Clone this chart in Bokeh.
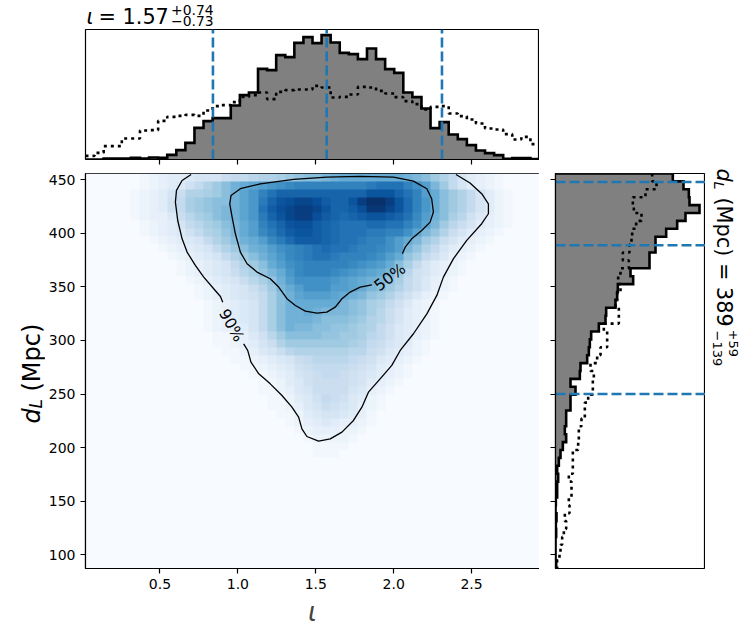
import numpy as np
from bokeh.embed import file_html
from bokeh.layouts import column, row
from bokeh.models import FixedTicker, Label, LinearColorMapper, PrintfTickFormatter, Range1d
from bokeh.palettes import Blues256
from bokeh.plotting import figure
from bokeh.resources import INLINE

IOTA_LIMITS = (0.022, 2.936)
DL_LIMITS = (87.0, 456.0)
iota_ticks = [0.5, 1.0, 1.5, 2.0, 2.5]
dl_ticks = [100, 150, 200, 250, 300, 350, 400, 450]
iota_quantiles = [0.84, 1.57, 2.31]
dl_quantiles = [250, 389, 448]

iota_posterior = [0,0,3,3,3,5,3,6,5,14,28,50,95,115,124,124,162,193,201,272,268,313,307,350,367,
                  349,373,351,320,316,301,333,301,271,260,201,187,153,94,112,75,61,43,27,19,13,2,4,4,1]
iota_prior = [11,20,40,40,63,63,87,88,116,128,131,134,131,147,160,163,172,188,193,201,181,203,208,210,210,
              221,216,186,188,195,218,216,206,198,187,175,166,150,158,160,138,130,120,108,93,90,76,60,68,46]
# distance histograms, listed from the top of the axis downwards
dl_posterior = [352,384,400,402,432,390,365,332,300,300,282,282,225,233,187,185,180,152,150,130,107,103,100,95,75,
                73,45,60,45,45,32,32,28,32,22,15,10,5,8,5,5,1,0,3,1,2,0,0,0,2]
dl_prior = [290,303,270,232,235,258,242,230,228,222,202,220,195,188,195,185,180,190,190,145,155,155,135,125,105,
            115,112,112,98,88,88,78,70,70,68,52,52,52,40,48,48,40,42,28,32,25,20,15,12,5]

contour90_a_x = [0.700,0.642,0.606,0.599,0.614,0.642,0.674,0.727,0.781,0.845,0.888,0.903]
contour90_a_y = [455.1,449.5,440.2,429.3,412.1,395.0,382.6,370.1,359.2,348.3,341.1,335.8]
contour90_b_x = [1.037,1.063,1.084,1.134,1.208,1.283,1.347,1.390,1.411,1.443,1.518,1.593,1.668,1.742,1.796,1.838,
                 1.913,1.988,2.042,2.127,2.213,2.277,2.319,2.383,2.469,2.565,2.608,2.608,2.565,2.490,2.400]
contour90_b_y = [296.9,290.7,279.8,268.9,259.5,248.6,237.7,228.4,217.5,210.3,205.9,208.1,214.4,225.3,237.7,251.7,
                 264.2,276.7,290.7,306.3,324.9,342.1,359.2,376.3,393.5,409.1,418.4,427.7,437.1,447.1,455.1]
contour50_x = [1.860,1.785,1.721,1.668,1.625,1.571,1.507,1.433,1.369,1.315,1.262,1.208,1.123,1.059,1.016,0.984,0.963,
               0.948,0.956,1.016,1.144,1.358,1.571,1.785,1.999,2.127,2.213,2.244,2.255,2.234,2.180,2.116,2.074,2.056]
contour50_y = [352.0,349.9,345.2,339.0,331.2,326.5,325.6,327.4,332.7,339.0,349.9,357.7,363.9,371.7,382.6,399.7,415.3,
               427.7,435.5,441.8,446.4,450.5,452.7,453.3,452.7,448.9,441.8,432.4,420.0,410.6,402.8,395.0,387.2,381.0]

# density levels (base 36, 0-z) per row from the top; each row begins at column heat_start
heat_start = [6,6,5,5,5,5,6,6,7,8,9,10,10,11,12,12,13,13,13,13,14,14,15,16,17,18,19,19,20,20,21,22,23,24,25,25]
heat_rows = [
 "123445666899abbcdeffghiiiiiiihgfdb96" + "4321",
 "1234579bdfhijklmnoooooooopqqqomkgd964321",
 "123468bbcdfhjloqssssssssssuuusqokifdb96421",
 "123479cdeffhjlpsuvwwvtssuxzzxurolifdb96421",
 "123479cdefghjlqtvwxxwusstvyywurolifdb96421",
 "123358acdfghjlpsuwxxvtsrstuutsqnkhfca75321",
 "123469acdfgikoqsuvvtsrqqqrrqqomjgda864321",
 "1234579bcegiknprtuutsrqqqppoomjgeb864321",
 "1234569bdfhiknprtttsrqqpoomkigdb864321",
 "1234569bdfhikmnopqrqqpoonmkgeb964321",
 "1234569bdfhjlnopqqpooonmkiec975321",
 "1234569bdfikmnooooonmlkifc964321",
 "1234568acegilnooonmlkjigda764321",
 "1234568acehkmmmmlkjihgec975321",
 "1234568adgikmmmkkjigfdb975321",
 "12345679cfhjkkkjihgedb975321",
 "1234569cfhiiiiigfecb975321",
 "1234569cfhhihgggfeca864321",
 "1234569cfhhhgfffedba864321",
 "1233469cfhggffeedcb9754321",
 "112357adffffeeddca9754321",
 "1123468bdddddddcb9865421",
 "1123568abbbbbbaa8754321",
 "112345689aaaa98754321",
 "112345789999876432" + "1",
 "11234678998765432" + "1",
 "112457888876432" + "1",
 "11235688886532" + "1",
 "1124579875421",
 "1123568765321",
 "11245665431",
 "1234543321",
 "12333221",
 "122221",
 "1111",
 "111",
]

FONT = "DejaVu Sans"
GRAY = "#808080"
BLUE = "#1f77b4"
FRAME_LINE = 1.2
HIST_LINE = 2.6
DOT = [3, 4]
DASH = [10, 4]


def style(p):
    p.grid.visible = False
    p.outline_line_color = "black"
    p.outline_line_width = FRAME_LINE
    p.background_fill_color = "white"
    p.border_fill_color = "white"


def style_axis(ax, ticks, labels=True):
    ax.ticker = FixedTicker(ticks=ticks)
    ax.minor_tick_line_color = None
    ax.major_tick_in = 0
    ax.major_tick_out = 5
    ax.major_tick_line_width = FRAME_LINE
    ax.axis_line_width = FRAME_LINE
    if labels:
        ax.major_label_text_font = FONT
        ax.major_label_text_font_size = "14px"
        ax.major_label_text_color = "black"
        ax.major_label_standoff = 5
    else:
        ax.major_label_overrides = {t: "" for t in ticks}
        ax.major_label_text_font_size = "1px"
        ax.major_label_standoff = 0


def text(p, x, y, t, size, angle=0, italic=False, units="screen", align="left", baseline="alphabetic"):
    p.add_layout(Label(x=x, y=y, x_units=units, y_units=units, text=t, text_font=FONT,
                       text_font_size=f"{size}px", text_color="black",
                       text_font_style="italic" if italic else "normal",
                       angle=angle, angle_units="deg", text_align=align, text_baseline=baseline))


def text_panel(width, height, left_border=0):
    p = figure(width=width, height=height, output_backend="svg", toolbar_location=None,
               x_range=Range1d(0, width), y_range=Range1d(0, height),
               min_border_left=left_border, min_border_right=0, min_border_top=0, min_border_bottom=0)
    p.axis.visible = False
    p.grid.visible = False
    p.outline_line_color = None
    return p


# ---- title strip
head = text_panel(539, 28, left_border=85)
text(head, 1, 11.3, "\u03b9", 20.8, italic=True)
text(head, 13, 11.3, "= 1.57", 20.8)
text(head, 85.5, 19, "+0.74", 13.9)
text(head, 85.5, 7.5, "\u22120.73", 13.9)

# ---- top histogram
top = figure(width=539, height=138, output_backend="svg", toolbar_location=None,
             x_range=Range1d(*IOTA_LIMITS), y_range=Range1d(0, 390),
             min_border_left=85, min_border_right=0, min_border_top=1, min_border_bottom=7)
style(top)
top.yaxis.visible = False
style_axis(top.xaxis[0], iota_ticks, labels=False)
edges = np.linspace(*IOTA_LIMITS, len(iota_posterior) + 1)
sx = np.repeat(edges, 2)[1:-1]
sy = np.repeat(iota_posterior, 2)
top.varea(x=sx, y1=np.zeros_like(sx), y2=sy, fill_color=GRAY)
top.line(np.r_[edges[0], sx, edges[-1]], np.r_[0, sy, 0], line_color="black", line_width=HIST_LINE, line_join="miter")
top.line(sx, np.repeat(iota_prior, 2), line_color="black", line_width=HIST_LINE, line_dash=DOT)
for q in iota_quantiles:
    top.line([q, q], [0, 390], line_color=BLUE, line_width=HIST_LINE, line_dash=DASH)

# ---- left label strip
left = text_panel(45, 464)
text(left, 31, 145, "d", 24, angle=90, italic=True)
text(left, 35, 160, "L", 17, angle=90, italic=True)
text(left, 31, 177, "(Mpc)", 24, angle=90)

# ---- main panel
main = figure(width=494, height=464, output_backend="svg", toolbar_location=None,
              x_range=Range1d(*IOTA_LIMITS), y_range=Range1d(*DL_LIMITS),
              min_border_left=40, min_border_right=0, min_border_top=7, min_border_bottom=62)
style(main)
style_axis(main.xaxis[0], iota_ticks)
style_axis(main.yaxis[0], dl_ticks)
main.xaxis[0].formatter = PrintfTickFormatter(format="%.1f")
main.xaxis.axis_label = "\u03b9"
main.xaxis.axis_label_text_font = FONT
main.xaxis.axis_label_text_font_size = "26px"
main.xaxis.axis_label_text_font_style = "italic"
main.xaxis.axis_label_standoff = 5

grid = np.zeros((50, 50))
for k, (start, levels) in enumerate(zip(heat_start, heat_rows)):
    grid[k, start:start + len(levels)] = [int(c, 36) for c in levels]
mapper = LinearColorMapper(palette=list(Blues256[::-1]), low=0, high=35)
main.image(image=[grid[::-1]], x=IOTA_LIMITS[0], y=DL_LIMITS[0],
           dw=IOTA_LIMITS[1] - IOTA_LIMITS[0], dh=DL_LIMITS[1] - DL_LIMITS[0], color_mapper=mapper)
for cx, cy in ((contour90_a_x, contour90_a_y), (contour90_b_x, contour90_b_y), (contour50_x, contour50_y)):
    main.line(cx, cy, line_color="black", line_width=1.3)
text(main, 1.977, 359, "50%", 15.5, angle=37, units="data", align="center", baseline="middle")
text(main, 0.958, 314, "90%", 15.5, angle=-61, units="data", align="center", baseline="middle")

# ---- right histogram
side = figure(width=166, height=464, output_backend="svg", toolbar_location=None,
              x_range=Range1d(0, 450), y_range=Range1d(*DL_LIMITS),
              min_border_left=16, min_border_right=0, min_border_top=7, min_border_bottom=62)
style(side)
side.xaxis.visible = False
style_axis(side.yaxis[0], dl_ticks, labels=False)
edges = np.linspace(DL_LIMITS[1], DL_LIMITS[0], len(dl_posterior) + 1)
ry = np.repeat(edges, 2)[1:-1]
rx = np.repeat(dl_posterior, 2)
side.harea(y=ry, x1=np.zeros_like(ry), x2=rx, fill_color=GRAY)
side.line(np.r_[0, rx, 0], np.r_[edges[0], ry, edges[-1]], line_color="black", line_width=HIST_LINE, line_join="miter")
side.line(np.repeat(dl_prior, 2), ry, line_color="black", line_width=HIST_LINE, line_dash=DOT)
for q in dl_quantiles:
    side.line([0, 450], [q, q], line_color=BLUE, line_width=HIST_LINE, line_dash=DASH)

# ---- right label strip, full page height
right = text_panel(44, 630)
text(right, 18, 462, "d", 20.8, angle=-90, italic=True)
text(right, 14, 449, "L", 14.6, angle=-90, italic=True)
text(right, 18, 433, "(Mpc) = 389", 20.8, angle=-90)
text(right, 28, 301, "+59", 13, angle=-90)
text(right, 12, 300, "\u2212139", 13, angle=-90)

page = row(column(head, top, row(left, main, side)), right)
open("out.html", "w").write(file_html(page, INLINE))
